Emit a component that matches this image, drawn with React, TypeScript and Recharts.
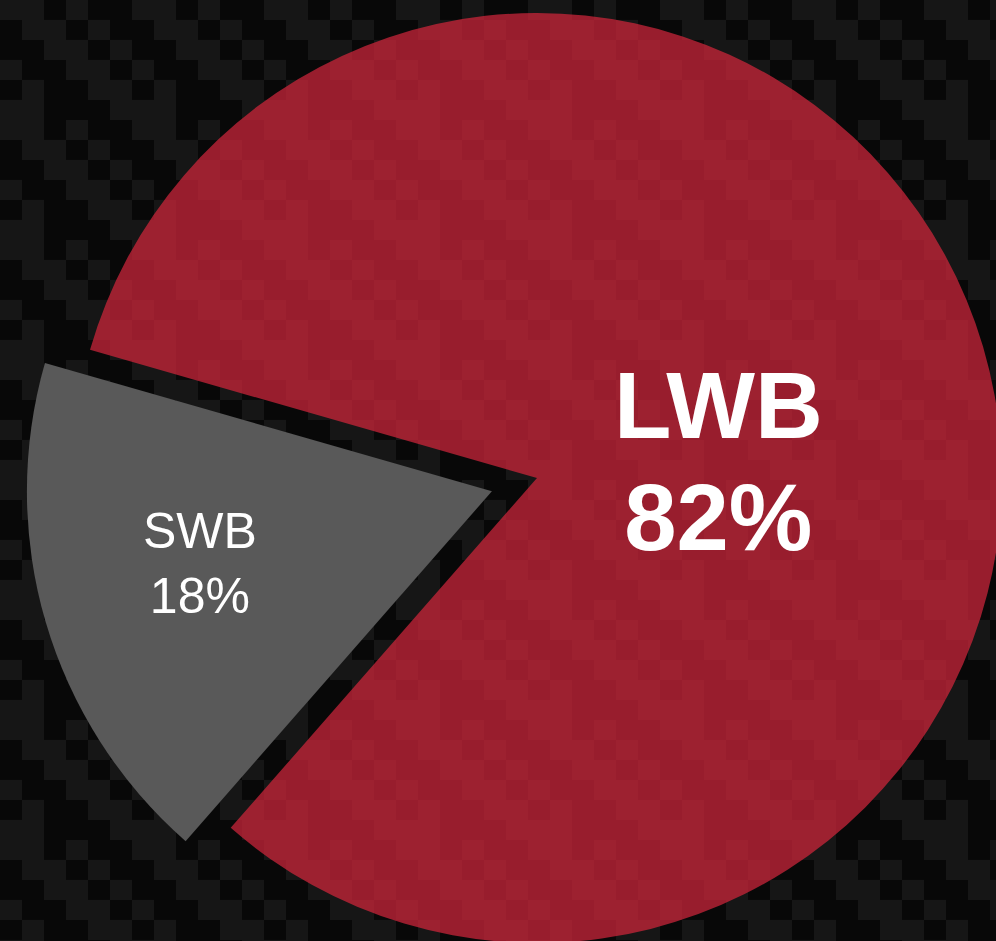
import { PieChart, Pie, Cell } from 'recharts'

const names = ['SWB', 'LWB']
const shares = [18, 82]
const sliceColors = ['#595959', 'url(#redWeave)']

const data = names.map((name, i) => ({ name, value: shares[i] }))

const W = 996
const H = 941
const CX = 537
const CY = 478
const R = 465
const START = 164
const EXPLODE = 47

// mid angle of the exploded SWB slice, from the data
const total = shares.reduce((a, b) => a + b, 0)
const swbMid = START + (shares[0] / total) * 360 / 2
const rad = (swbMid * Math.PI) / 180
const gx = CX + EXPLODE * Math.cos(rad)
const gy = CY - EXPLODE * Math.sin(rad)

const FONT = '"Liberation Sans", Arial, sans-serif'

// blocky weave layout: [col, row, wide] on a 6x6 grid
const weaveCells = [
  [0, 0, 2], [3, 0, 1], [1, 1, 2], [4, 1, 1], [2, 2, 2], [5, 2, 1],
  [0, 3, 1], [3, 3, 2], [1, 4, 1], [4, 4, 2], [0, 5, 2], [5, 5, 1],
]

function weaveRects(size: number, light: string) {
  const u = size / 6
  return weaveCells.map(([c, r, w], i) => (
    <rect key={i} x={c * u} y={r * u} width={Math.min(w * u, size - c * u)} height={u} fill={light} />
  ))
}

function renderLabel(target: string) {
  return (props: any) => {
    if (props.name !== target) return null
    const pct = `${Math.round(props.percent * 100)}%`
    const cx = props.cx
    const cy = props.cy
    const r = props.outerRadius
    if (target === 'LWB') {
      const x = cx + 0.39 * r
      return (
        <text x={x} y={cy} textAnchor="middle" fill="#ffffff" fontFamily={FONT} fontWeight="bold" fontSize={94}>
          <tspan x={x} y={cy - 40}>{props.name}</tspan>
          <tspan x={x} y={cy + 72}>{pct}</tspan>
        </text>
      )
    }
    const x = cx - 0.628 * r
    return (
      <text x={x} y={cy} textAnchor="middle" fill="#ffffff" fontFamily={FONT} fontSize={50}>
        <tspan x={x} y={cy + 57}>{props.name}</tspan>
        <tspan x={x} y={cy + 122}>{pct}</tspan>
      </text>
    )
  }
}

export default function App() {
  return (
    <div style={{ position: 'absolute', left: 0, top: 0, width: W, height: H, overflow: 'hidden', background: '#090909' }}>
      <svg width={W} height={H} style={{ position: 'absolute', left: 0, top: 0 }}>
        <defs>
          <pattern id="carbon" width={132} height={120} patternUnits="userSpaceOnUse">
            <rect width={132} height={120} fill="#080808" />
            <g transform="scale(1, 0.909)">{weaveRects(132, '#161616')}</g>
          </pattern>
        </defs>
        <rect width={W} height={H} fill="url(#carbon)" />
      </svg>
      <div style={{ position: 'absolute', left: 0, top: 0 }}>
        <PieChart width={W} height={H} margin={{ top: 0, right: 0, bottom: 0, left: 0 }}>
          <defs>
            <pattern id="redWeave" width={132} height={120} patternUnits="userSpaceOnUse">
              <rect width={132} height={120} fill="#981d2d" />
              <g transform="scale(1, 0.909)">{weaveRects(132, '#9d2130')}</g>
            </pattern>
          </defs>
          <Pie
            data={data}
            dataKey="value"
            nameKey="name"
            cx={CX}
            cy={CY}
            outerRadius={R}
            startAngle={START}
            endAngle={START + 360}
            stroke="none"
            labelLine={false}
            label={renderLabel('LWB')}
            isAnimationActive={false}
          >
            {data.map((d, i) => (
              <Cell key={d.name} fill={d.name === 'LWB' ? sliceColors[i] : 'transparent'} stroke="none" />
            ))}
          </Pie>
          <Pie
            data={data}
            dataKey="value"
            nameKey="name"
            cx={gx}
            cy={gy}
            outerRadius={R}
            startAngle={START}
            endAngle={START + 360}
            stroke="none"
            labelLine={false}
            label={renderLabel('SWB')}
            isAnimationActive={false}
          >
            {data.map((d, i) => (
              <Cell key={d.name} fill={d.name === 'SWB' ? sliceColors[i] : 'transparent'} stroke="none" />
            ))}
          </Pie>
        </PieChart>
      </div>
    </div>
  )
}
